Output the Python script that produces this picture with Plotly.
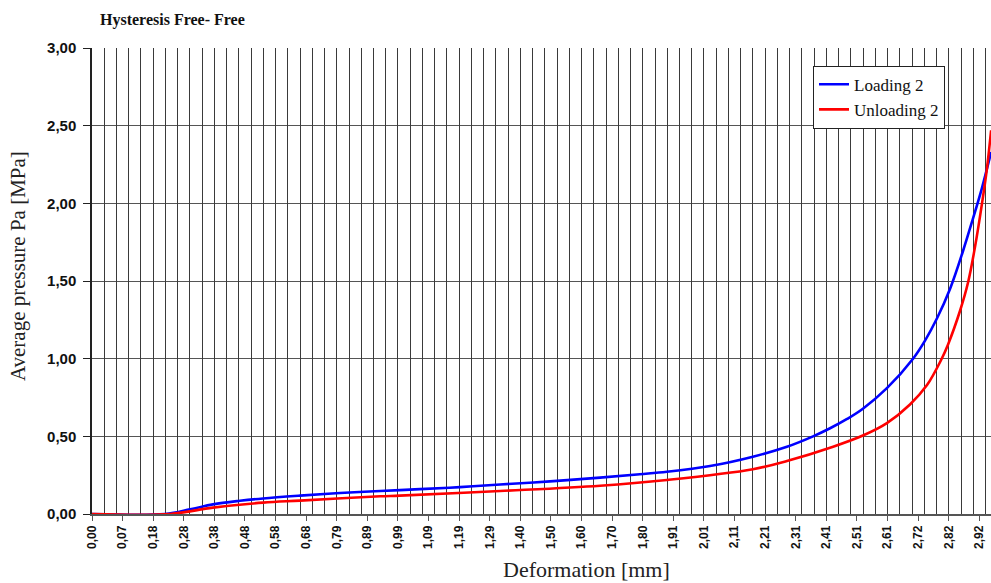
import plotly.graph_objects as go

# ---- data ----
tick_labels = ["0,00", "0,07", "0,18", "0,28", "0,38", "0,48", "0,58", "0,68", "0,79", "0,89",
               "0,99", "1,09", "1,19", "1,29", "1,40", "1,50", "1,60", "1,70", "1,80", "1,91",
               "2,01", "2,11", "2,21", "2,31", "2,41", "2,51", "2,61", "2,72", "2,82", "2,92"]
label_step = 0.1007      # mm between consecutive category labels
grid_step = 0.04028      # mm between vertical gridlines
x_max = 2.9586

loading_x = [0.0, 0.240, 0.323, 0.398, 0.487, 0.563, 0.685, 0.816, 0.948, 1.079, 1.211, 1.343,
             1.507, 1.672, 1.803, 1.892, 2.034, 2.175, 2.287, 2.373, 2.429, 2.485, 2.537, 2.616,
             2.702, 2.741, 2.781, 2.824, 2.866, 2.899, 2.929, 2.959]
loading_y = [0.0, 0.0, 0.030, 0.062, 0.085, 0.100, 0.118, 0.135, 0.148, 0.160, 0.173, 0.190,
             0.210, 0.234, 0.256, 0.272, 0.309, 0.369, 0.433, 0.500, 0.552, 0.612, 0.678, 0.810,
             1.000, 1.115, 1.260, 1.450, 1.690, 1.900, 2.100, 2.330]

unloading_x = [0.0, 0.257, 0.398, 0.563, 0.685, 0.948, 1.013, 1.343, 1.672, 1.892, 2.175, 2.287,
               2.439, 2.537, 2.616, 2.692, 2.748, 2.794, 2.817, 2.857, 2.883, 2.906, 2.929, 2.945,
               2.959]
unloading_y = [0.0, 0.0, 0.041, 0.073, 0.086, 0.114, 0.118, 0.148, 0.182, 0.219, 0.288, 0.341,
               0.433, 0.505, 0.585, 0.705, 0.830, 0.990, 1.090, 1.310, 1.490, 1.720, 2.000, 2.220,
               2.470]

tick_positions = [i * label_step for i in range(len(tick_labels))]

fig = go.Figure()
fig.add_trace(go.Scatter(x=loading_x, y=loading_y, mode="lines", name="Loading 2",
                         line=dict(color="#0000FF", width=2.6, shape="spline", smoothing=1.0)))
fig.add_trace(go.Scatter(x=unloading_x, y=unloading_y, mode="lines", name="Unloading 2",
                         line=dict(color="#FF0000", width=2.6, shape="spline", smoothing=1.0)))
# invisible helper trace to activate the gridline axis
fig.add_trace(go.Scatter(x=[0], y=[0], xaxis="x2", mode="markers", marker=dict(opacity=0),
                         showlegend=False, hoverinfo="skip"))

serif = "Liberation Serif, Times New Roman, serif"
sans = "Liberation Sans, Arial, sans-serif"

fig.update_layout(
    width=991, height=583,
    margin=dict(l=92, r=0, t=48, b=69, autoexpand=False),
    paper_bgcolor="white", plot_bgcolor="white",
    separators=", ",
    showlegend=True,
    legend=dict(x=0.802, y=0.962, xanchor="left", yanchor="top",
                bordercolor="#222", borderwidth=1, bgcolor="white",
                font=dict(family=serif, size=17, color="#111"),
                tracegroupgap=0, itemwidth=30),
    xaxis=dict(range=[0, x_max], tickmode="array", tickvals=tick_positions, ticktext=tick_labels,
               tickangle=-90, showgrid=False, zeroline=False, automargin=False,
               showline=True, linecolor="#555", linewidth=1.5,
               ticks="outside", ticklen=5, tickcolor="#555",
               tickfont=dict(family=sans, size=12, color="#111", weight="bold")),
    xaxis2=dict(range=[0, x_max], overlaying="x", anchor="y", side="bottom",
                tickmode="linear", tick0=0, dtick=grid_step, automargin=False,
                showgrid=True, gridcolor="#3a3a3a", gridwidth=1,
                showticklabels=False, ticks="", zeroline=False, showline=False),
    yaxis=dict(range=[0, 3], dtick=0.5, tickformat=".2f", automargin=False,
               showgrid=True, gridcolor="#555", gridwidth=1, zeroline=False,
               showline=True, linecolor="#222", linewidth=1.5,
               ticks="outside", ticklen=7, tickcolor="#222", ticklabelstandoff=4,
               tickfont=dict(family=sans, size=15, color="#111", weight="bold")),
    annotations=[
        dict(text="<b>Hysteresis Free- Free</b>", xref="paper", yref="paper",
             x=0.0067, y=1.060, xanchor="left", yanchor="middle", showarrow=False,
             font=dict(family=serif, size=16, color="#111")),
        dict(text="Average pressure Pa [MPa]", xref="paper", yref="paper",
             x=-0.0823, y=0.532, xanchor="center", yanchor="middle", textangle=-90,
             showarrow=False, font=dict(family=serif, size=21, color="#222")),
        dict(text="Deformation [mm]", xref="paper", yref="paper",
             x=0.5495, y=-0.120, xanchor="center", yanchor="middle",
             showarrow=False, font=dict(family=serif, size=22, color="#222")),
    ],
)

fig.write_html("out.html", config={"displayModeBar": False},
               post_script="document.body.style.margin='0';document.body.style.padding='0';")
